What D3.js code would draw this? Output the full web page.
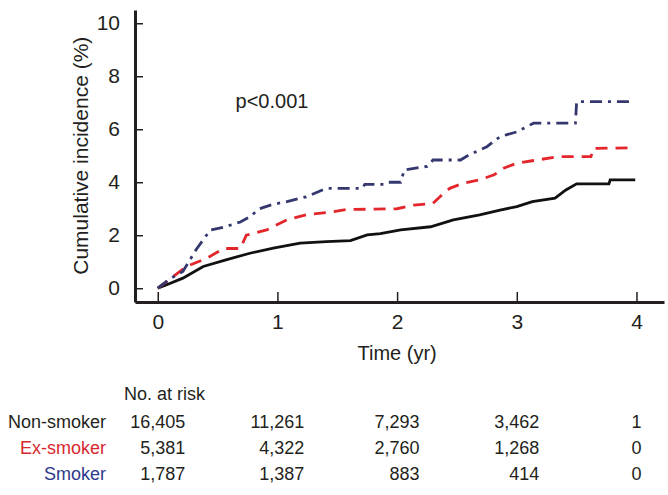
<!DOCTYPE html>
<html>
<head>
<meta charset="utf-8">
<script src="https://cdn.jsdelivr.net/npm/d3@7"></script>
<style>
  body { margin: 0; background: #fff; }
  svg { display: block; }
  text { font-family: "Liberation Sans", Arial, sans-serif; fill: #231f20; }
  .axis path, .axis line { stroke: #231f20; }
</style>
</head>
<body>
<script>
var w = 668;
var h = 495;

// Cumulative incidence (%) curves, [time (yr), value]
var nonSmoker = [
  [0, 0], [0.07, 0.12], [0.21, 0.38], [0.38, 0.82], [0.57, 1.07], [0.77, 1.32],
  [0.965, 1.51], [1.19, 1.7], [1.41, 1.76], [1.61, 1.8], [1.75, 2.01], [1.86, 2.06],
  [2.03, 2.2], [2.28, 2.32], [2.47, 2.58], [2.69, 2.77], [2.86, 2.95], [3.0, 3.08],
  [3.13, 3.27], [3.32, 3.4], [3.41, 3.71], [3.5, 3.94], [3.77, 3.94], [3.78, 4.09],
  [3.99, 4.09]
];
var exSmoker = [
  [0, 0], [0.13, 0.44], [0.24, 0.82], [0.41, 1.13], [0.55, 1.5], [0.69, 1.5],
  [0.74, 2.0], [0.91, 2.2], [1.08, 2.58], [1.24, 2.77], [1.47, 2.89], [1.58, 2.97],
  [2.0, 3.0], [2.14, 3.14], [2.3, 3.2], [2.36, 3.46], [2.44, 3.77], [2.55, 3.96],
  [2.69, 4.09], [2.81, 4.28], [2.89, 4.53], [3.0, 4.72], [3.14, 4.82], [3.36, 4.97],
  [3.62, 4.97], [3.64, 5.28], [3.98, 5.3]
];
var smoker = [
  [0, 0], [0.11, 0.38], [0.21, 0.63], [0.32, 1.45], [0.44, 2.2], [0.55, 2.3],
  [0.69, 2.5], [0.77, 2.7], [0.85, 3.0], [0.95, 3.15], [1.08, 3.27], [1.24, 3.45],
  [1.41, 3.77], [1.71, 3.77], [1.73, 3.92], [1.9, 3.92], [1.93, 4.0], [2.03, 4.0],
  [2.06, 4.46], [2.25, 4.6], [2.3, 4.84], [2.53, 4.84], [2.6, 5.03], [2.75, 5.34],
  [2.86, 5.72], [3.0, 5.9], [3.14, 6.23], [3.49, 6.23], [3.5, 7.04], [3.95, 7.04]
];

var groups = ["Non-smoker", "Ex-smoker", "Smoker"];
var xTicks = [0, 1, 2, 3, 4];
var yTicks = [0, 2, 4, 6, 8, 10];

// No. at risk at each x tick
var riskNon = ["16,405", "11,261", "7,293", "3,462", "1"];
var riskEx = ["5,381", "4,322", "2,760", "1,268", "0"];
var riskSmk = ["1,787", "1,387", "883", "414", "0"];

var pText = "p<0.001";

// Scales
var xScale = d3.scaleLinear().domain([-0.19, 4.23]).range([135, 664]);
var yScale = d3.scaleLinear().domain([-0.52, 10.5]).range([302, 10]);

var svg = d3.select("body").append("svg").attr("width", w).attr("height", h);

// Axes
var xAxis = d3.axisBottom(xScale).tickValues(xTicks).tickFormat(d3.format("d"))
  .tickSizeInner(-10).tickSizeOuter(0).tickPadding(12);
var yAxis = d3.axisLeft(yScale).tickValues(yTicks).tickFormat(d3.format("d"))
  .tickSizeInner(-8).tickSizeOuter(0).tickPadding(15);

var gx = svg.append("g")
  .attr("class", "axis")
  .attr("transform", "translate(0," + yScale.range()[0] + ")")
  .call(xAxis);
var gy = svg.append("g")
  .attr("class", "axis")
  .attr("transform", "translate(" + xScale.range()[0] + ",0)")
  .call(yAxis);

[gx, gy].forEach(function (g) {
  g.select(".domain").attr("stroke-width", 3);
  g.selectAll(".tick line").attr("stroke-width", 1.5);
  g.selectAll(".tick text").attr("font-size", 21).attr("fill", "#231f20")
    .style("font-family", "'Liberation Sans', Arial, sans-serif");
});

// Axis titles
svg.append("text")
  .attr("x", (xScale(0) + xScale(4)) / 2)
  .attr("y", 360)
  .attr("text-anchor", "middle")
  .attr("font-size", 20)
  .text("Time (yr)");

svg.append("text")
  .attr("transform", "translate(88," + yScale(5) + ") rotate(-90)")
  .attr("text-anchor", "middle")
  .attr("font-size", 21)
  .text("Cumulative incidence (%)");

svg.append("text")
  .attr("x", xScale(0.65))
  .attr("y", yScale(6.8))
  .attr("font-size", 20)
  .text(pText);

// Curves
var line = d3.line()
  .x(function (d) { return xScale(d[0]); })
  .y(function (d) { return yScale(d[1]); });

var series = [
  { data: nonSmoker, color: "#111111", dash: null },
  { data: exSmoker, color: "#e3262b", dash: "12,8" },
  { data: smoker, color: "#34386e", dash: "12,6,3,6" }
];

svg.selectAll(".curve")
  .data(series)
  .enter()
  .append("path")
  .attr("class", "curve")
  .attr("fill", "none")
  .attr("stroke", function (d) { return d.color; })
  .attr("stroke-width", 2.8)
  .attr("stroke-dasharray", function (d) { return d.dash; })
  .attr("d", function (d) { return line(d.data); });

// Risk table
var rowColors = ["#231f20", "#d7282f", "#2e3a8c"];
var rows = [riskNon, riskEx, riskSmk];
var rowY = [428, 454, 480];

svg.append("text")
  .attr("x", 124)
  .attr("y", 400)
  .attr("font-size", 18)
  .text("No. at risk");

svg.selectAll(".rowlabel")
  .data(groups)
  .enter()
  .append("text")
  .attr("class", "rowlabel")
  .attr("x", 106)
  .attr("y", function (d, i) { return rowY[i]; })
  .attr("text-anchor", "end")
  .attr("font-size", 18)
  .style("fill", function (d, i) { return rowColors[i]; })
  .text(function (d) { return d; });

rows.forEach(function (r, i) {
  svg.selectAll(".risk" + i)
    .data(r)
    .enter()
    .append("text")
    .attr("class", "risk risk" + i)
    .attr("data-col", function (d, j) { return j; })
    .attr("y", rowY[i])
    .attr("text-anchor", "end")
    .attr("font-size", 18)
    .text(function (d) { return d; });
});

// each column: right-aligned, block centred on its tick
xTicks.forEach(function (t, j) {
  var cells = svg.selectAll(".risk").filter(function () { return +this.getAttribute("data-col") === j; });
  var maxW = 0;
  cells.each(function () { maxW = Math.max(maxW, this.getComputedTextLength()); });
  cells.attr("x", xScale(t) + maxW / 2);
});
</script>
</body>
</html>
